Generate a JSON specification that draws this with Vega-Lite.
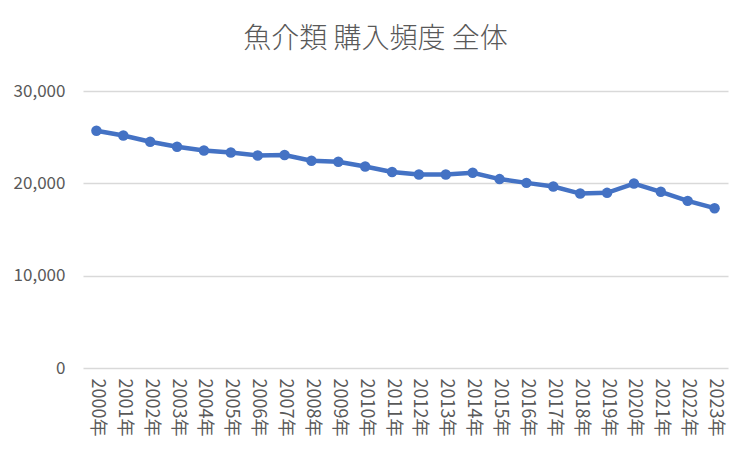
{
  "$schema": "https://vega.github.io/schema/vega-lite/v6.json",
  "width": 645,
  "height": 277,
  "autosize": {"type": "none"},
  "padding": {"left": 83, "top": 91, "right": 24, "bottom": 84},
  "background": "white",
  "title": {
    "text": "魚介類 購入頻度 全体",
    "font": "Noto Sans CJK JP",
    "fontSize": 28,
    "fontWeight": 300,
    "color": "#595959",
    "anchor": "middle",
    "dx": -30,
    "offset": 28
  },
  "data": {
    "values": [
      {"year": "2000年", "value": 25690},
      {"year": "2001年", "value": 25180},
      {"year": "2002年", "value": 24500},
      {"year": "2003年", "value": 23960},
      {"year": "2004年", "value": 23560},
      {"year": "2005年", "value": 23340},
      {"year": "2006年", "value": 23010},
      {"year": "2007年", "value": 23060},
      {"year": "2008年", "value": 22440},
      {"year": "2009年", "value": 22330},
      {"year": "2010年", "value": 21820},
      {"year": "2011年", "value": 21230},
      {"year": "2012年", "value": 20950},
      {"year": "2013年", "value": 20950},
      {"year": "2014年", "value": 21140},
      {"year": "2015年", "value": 20460},
      {"year": "2016年", "value": 20050},
      {"year": "2017年", "value": 19650},
      {"year": "2018年", "value": 18890},
      {"year": "2019年", "value": 18970},
      {"year": "2020年", "value": 19980},
      {"year": "2021年", "value": 19080},
      {"year": "2022年", "value": 18100},
      {"year": "2023年", "value": 17310}
    ]
  },
  "mark": {
    "type": "line",
    "color": "#4472C4",
    "strokeWidth": 4.5,
    "point": {"filled": true, "size": 110, "color": "#4472C4", "opacity": 1}
  },
  "encoding": {
    "x": {
      "field": "year",
      "type": "ordinal",
      "scale": {"type": "point", "padding": 0.5},
      "axis": {
        "title": null,
        "labelAngle": 90,
        "labelAlign": "left",
        "labelBaseline": "middle",
        "labelFont": "Noto Sans CJK JP",
        "labelFontSize": 18,
        "labelColor": "#595959",
        "labelPadding": 10,
        "ticks": false,
        "domain": false,
        "grid": false
      }
    },
    "y": {
      "field": "value",
      "type": "quantitative",
      "scale": {"domain": [0, 30000], "nice": false},
      "axis": {
        "title": null,
        "values": [0, 10000, 20000, 30000],
        "format": ",.0f",
        "labelFont": "Noto Sans CJK JP",
        "labelFontSize": 17,
        "labelColor": "#595959",
        "labelPadding": 18,
        "ticks": false,
        "domain": false,
        "grid": true,
        "gridColor": "#D9D9D9",
        "gridWidth": 1.5
      }
    }
  },
  "config": {"view": {"stroke": null}}
}
